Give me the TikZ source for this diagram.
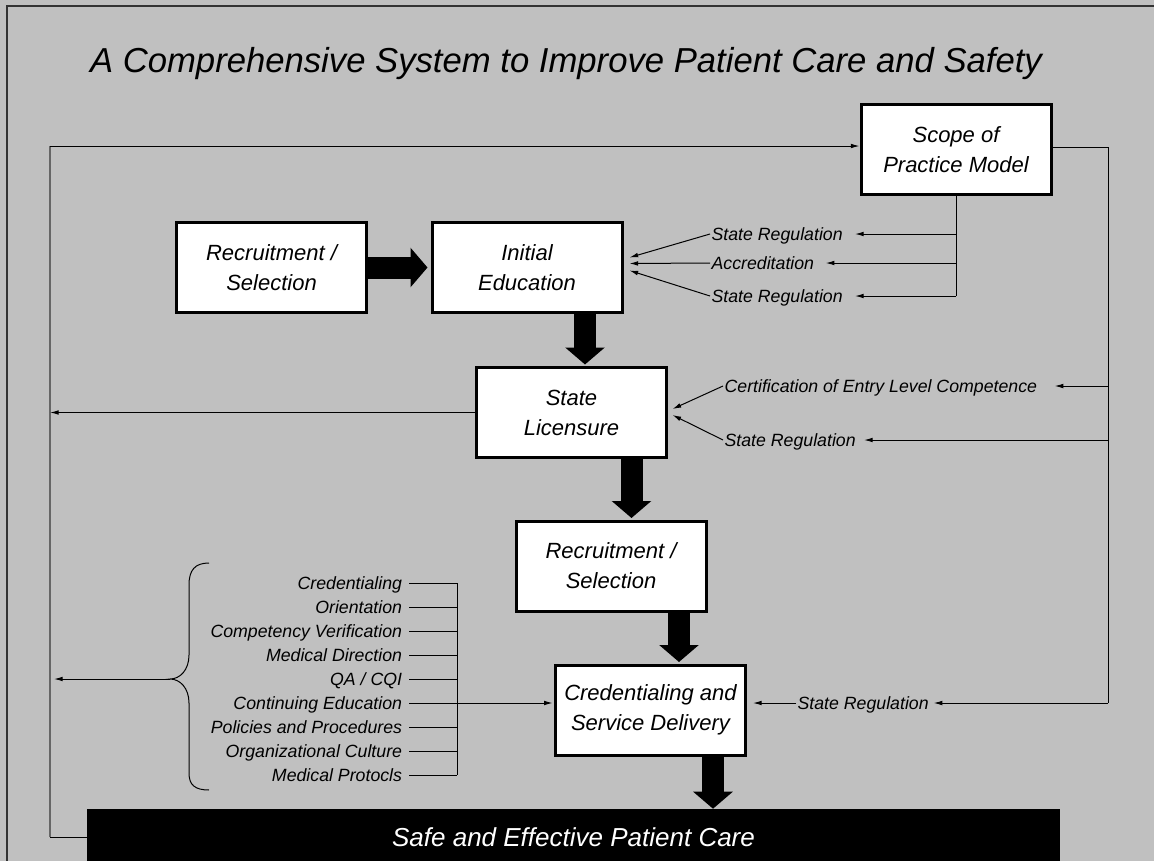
\documentclass[tikz,border=0pt]{standalone}
\usepackage{fontspec}
\setmainfont{Liberation Sans}
\usetikzlibrary{arrows.meta}
\definecolor{slidebg}{HTML}{C0C0C0}
\definecolor{loopgray}{HTML}{666666}
\definecolor{framegray}{HTML}{333333}
\begin{document}
\begin{tikzpicture}[x=0.75pt,y=-0.75pt]
        \tikzset{box/.style={draw, fill=white, line width=2.25pt, minimum width=142.5pt, minimum height=67.5pt, inner sep=0pt, align=center, font=\fontsize{16.5pt}{22.5pt}\selectfont\itshape},
                 lbl/.style={inner ysep=0pt, inner xsep=1pt, text height=9.5pt, text depth=0pt, font=\fontsize{13.3pt}{16pt}\selectfont\itshape},
                 arr/.style={line width=0.75pt, -{Latex[length=6.5pt,width=3.5pt]}},
                 bigarr/.style={line width=16.5pt, -{Triangle[length=12.75pt,width=29pt]}}}
        \fill [slidebg] (0,0) rectangle (1154,861);
        \useasboundingbox (0,0) rectangle (1154,861);
        \draw [framegray, line width=1.5pt] (7,861) -- (7,5.5) -- (1154,5.5);
        \node [font=\fontsize{26pt}{30pt}\selectfont\itshape, anchor=base] (title) at (566,72) {A Comprehensive System to Improve Patient Care and Safety};
        \node [box] (scope) at (956,149.5) {Scope of\\Practice Model};
        \node [box] (rs1)   at (271.5,267.5) {Recruitment /\\Selection};
        \node [box] (ie)    at (527,267.5) {Initial\\Education};
        \node [box] (sl)    at (571.5,412.5) {State\\Licensure};
        \node [box] (rs2)   at (611,566) {Recruitment /\\Selection};
        \node [box] (csd)   at (650.5,710) {Credentialing and\\Service Delivery};
        \node [fill=black, minimum width=729.75pt, minimum height=42pt, inner sep=0pt, text=white, font=\fontsize{19.5pt}{22pt}\selectfont\itshape] (bar) at (573.5,837) {Safe and Effective Patient Care};
        \draw [bigarr] (rs1.east) -- ([shift={(-3,0)}]ie.west);
        \draw [bigarr] ([shift={(58,0)}]ie.south) -- ([shift={(13.5,-1.5)}]sl.north);
        \draw [bigarr] ([shift={(60,0)}]sl.south) -- ([shift={(20.5,-1.5)}]rs2.north);
        \draw [bigarr] ([shift={(68,0)}]rs2.south) -- ([shift={(28.5,-1.5)}]csd.north);
        \draw [bigarr] ([shift={(62.5,0)}]csd.south) -- ([shift={(139.5,0)}]bar.north);
        \node [lbl, anchor=west] (sr1)  at (710,234) {State Regulation};
        \node [lbl, anchor=west] (acc)  at (710,263) {Accreditation};
        \node [lbl, anchor=west] (sr2)  at (710,296) {State Regulation};
        \node [lbl, anchor=west] (cert) at (723,386) {Certification of Entry Level Competence};
        \node [lbl, anchor=west] (sr3)  at (723,440) {State Regulation};
        \node [lbl, anchor=west] (sr4)  at (796,703) {State Regulation};
        \coordinate (tl) at (50,146);
        \coordinate (tr) at (1108,147);
        \draw [line width=0.75pt] (bar.west) -- (bar.west -| tl);
        \draw [loopgray, line width=1.3pt] (bar.west -| tl) -- (tl);
        \draw [arr] (tl) -- (tl -| scope.west);
        \draw [arr] (sl.west) -- (sl.west -| tl);
        \draw [line width=0.75pt] (scope.east |- tr) -- (tr) -- (tr |- sr4);
        \draw [line width=0.75pt] (scope.south) -- (scope.south |- sr2);
        \draw [arr, shorten >=8pt] (scope.south |- sr1) -- (sr1.east);
        \draw [arr, shorten >=7.5pt] (scope.south |- acc) -- (acc.east);
        \draw [arr, shorten >=8pt] (scope.south |- sr2) -- (sr2.east);
        \draw [arr, shorten >=12pt] (tr |- cert) -- (cert.east);
        \draw [arr, shorten >=5pt] (tr |- sr3) -- (sr3.east);
        \draw [arr, shorten >=2.5pt] (tr |- sr4) -- (sr4.east);
        \draw [arr] (sr1.west) -- ([shift={(6,-10)}]ie.east);
        \draw [arr] (acc.west) -- ([shift={(6,-4)}]ie.east);
        \draw [arr] (sr2.west) -- ([shift={(6,3)}]ie.east);
        \draw [arr] (cert.west) -- ([shift={(4.5,-3.5)}]sl.east);
        \draw [arr] (sr3.west) -- ([shift={(4.5,2.5)}]sl.east);
        \draw [arr, shorten >=4.5pt] (sr4.west) -- (csd.east |- sr4.west);
        \foreach \t [count=\i] in {Credentialing, Orientation, Competency Verification, Medical Direction, QA / CQI, Continuing Education, Policies and Procedures, Organizational Culture, Medical Protocls}
            \node [lbl, inner xsep=5pt, anchor=east] (l\i) at (409,559+24*\i) {\t};
        \coordinate (bus) at (457,583);
        \foreach \i in {1,...,9}
            \draw [line width=0.75pt] (l\i.east) -- (l\i.east -| bus);
        \draw [line width=0.75pt] (l1.east -| bus) -- (l9.east -| bus);
        \draw [arr, shorten >=1pt] (l6.east) -- (l6.east -| csd.west);
        \coordinate (brace) at (170,679);
        \draw [line width=0.75pt] (209,563) .. controls (195,563) and (189,570) .. (189,585) -- (189,655) .. controls (189,670) and (180,679) .. (brace) .. controls (180,679) and (189,688) .. (189,703) -- (189,773) .. controls (189,785) and (195,790) .. (209,790);
        \draw [arr, shorten >=3pt] (brace) -- (brace -| tl);
    \end{tikzpicture}
\end{document}
